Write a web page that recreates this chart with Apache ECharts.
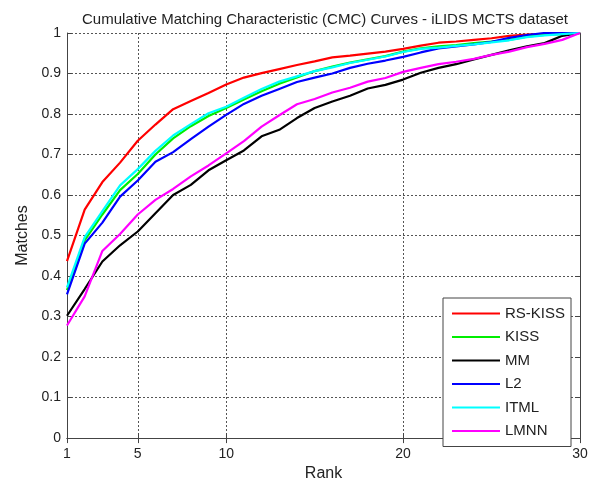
<!DOCTYPE html>
<html>
<head>
<meta charset="utf-8">
<script src="https://cdn.jsdelivr.net/npm/echarts@6/dist/echarts.min.js"></script>
<style>
    html, body { margin: 0; padding: 0; background: #fff; }
    #myChart { width: 596px; height: 487px; }
</style>
</head>
<body>
<div id="myChart"></div>
<script>
    var rankList = [];
    for (var i = 1; i <= 30; i++) rankList.push(String(i));
    var rankTicks = ['1', '5', '10', '20', '30'];

    var rsKissList = [0.437, 0.564, 0.632, 0.68, 0.734, 0.774, 0.812, 0.832, 0.852, 0.873, 0.89, 0.901, 0.911, 0.921, 0.93,
        0.94, 0.944, 0.949, 0.954, 0.961, 0.969, 0.976, 0.979, 0.983, 0.987, 0.993, 0.996, 0.998, 0.999, 1.0];
    var kissList = [0.365, 0.488, 0.552, 0.612, 0.652, 0.70, 0.74, 0.77, 0.795, 0.815, 0.836, 0.856, 0.875, 0.89, 0.906,
        0.917, 0.927, 0.935, 0.943, 0.954, 0.962, 0.967, 0.97, 0.975, 0.979, 0.983, 0.991, 0.995, 0.997, 1.0];
    var mmList = [0.302, 0.368, 0.436, 0.476, 0.51, 0.555, 0.6, 0.625, 0.661, 0.686, 0.71, 0.745, 0.761, 0.79, 0.815,
        0.831, 0.845, 0.863, 0.872, 0.885, 0.902, 0.914, 0.923, 0.935, 0.946, 0.957, 0.967, 0.975, 0.993, 1.0];
    var l2List = [0.355, 0.48, 0.532, 0.596, 0.636, 0.682, 0.706, 0.738, 0.769, 0.798, 0.825, 0.845, 0.862, 0.879, 0.89,
        0.9, 0.914, 0.924, 0.932, 0.941, 0.952, 0.962, 0.967, 0.972, 0.978, 0.988, 0.995, 1.0, 1.0, 1.0];
    var itmlList = [0.372, 0.496, 0.56, 0.624, 0.664, 0.709, 0.747, 0.775, 0.802, 0.818, 0.84, 0.862, 0.88, 0.893, 0.906,
        0.915, 0.926, 0.934, 0.942, 0.953, 0.961, 0.964, 0.968, 0.972, 0.977, 0.982, 0.99, 0.994, 0.997, 1.0];
    var lmnnList = [0.278, 0.35, 0.462, 0.504, 0.552, 0.588, 0.615, 0.646, 0.673, 0.703, 0.733, 0.769, 0.797, 0.824, 0.837,
        0.853, 0.865, 0.88, 0.889, 0.904, 0.914, 0.923, 0.929, 0.936, 0.946, 0.954, 0.965, 0.973, 0.983, 1.0];

    var font = "'Liberation Sans', Arial, sans-serif";
    var frameColor = '#444';
    var gridLine = { show: true, lineStyle: { color: '#555', type: [2, 2], width: 1 } };

    function showRank(index, value) {
        return rankTicks.indexOf(value) >= 0;
    }
    // vertical grid only at 5, 10, 20 (1 and 30 are the frame)
    function innerRank(index, value) {
        return value === '5' || value === '10' || value === '20';
    }

    function makeLine(name, data, color) {
        return {
            name: name,
            type: 'line',
            data: data,
            symbol: 'none',
            smooth: false,
            lineStyle: { color: color, width: 2.2 },
            itemStyle: { color: color },
            emphasis: { disabled: true }
        };
    }

    var myChart = echarts.init(document.getElementById('myChart'));
    myChart.setOption({
        animation: false,
        backgroundColor: '#fff',
        title: {
            text: 'Cumulative Matching Characteristic (CMC) Curves - iLIDS MCTS dataset',
            left: 320,
            textAlign: 'center',
            top: 7,
            textStyle: { fontFamily: font, fontSize: 15, fontWeight: 'normal', color: '#222' }
        },
        legend: {
            orient: 'vertical',
            left: 443,
            top: 298,
            padding: [8, 6, 8, 9],
            icon: 'rect',
            itemWidth: 48,
            itemHeight: 2,
            itemGap: 8.5,
            backgroundColor: '#fff',
            borderColor: '#444',
            borderWidth: 1,
            borderRadius: 0,
            textStyle: { fontFamily: font, fontSize: 15, lineHeight: 14, color: '#222' },
            data: ['RS-KISS', 'KISS', 'MM', 'L2', 'ITML', 'LMNN']
        },
        grid: { left: 67, right: 16, top: 33, bottom: 43, containLabel: false },
        xAxis: [
            {
                type: 'category',
                boundaryGap: false,
                data: rankList,
                name: 'Rank',
                nameLocation: 'middle',
                nameGap: 27,
                nameTextStyle: { fontFamily: font, fontSize: 16, color: '#222' },
                axisLine: { lineStyle: { color: frameColor, width: 1 } },
                axisTick: { inside: true, length: 5, interval: showRank, lineStyle: { color: frameColor } },
                axisLabel: { interval: showRank, margin: 9, fontFamily: font, fontSize: 14, color: '#222' },
                splitLine: { show: true, interval: innerRank, lineStyle: gridLine.lineStyle }
            },
            {
                type: 'category',
                position: 'top',
                boundaryGap: false,
                data: rankList,
                axisLine: { lineStyle: { color: frameColor, width: 1 } },
                axisTick: { inside: true, length: 5, interval: showRank, lineStyle: { color: frameColor } },
                axisLabel: { show: false },
                splitLine: { show: false }
            }
        ],
        yAxis: [
            {
                type: 'value',
                min: 0,
                max: 1,
                interval: 0.1,
                name: 'Matches',
                nameLocation: 'middle',
                nameGap: 36,
                nameTextStyle: { fontFamily: font, fontSize: 16, color: '#222' },
                axisLine: { show: true, lineStyle: { color: frameColor, width: 1 } },
                axisTick: { show: true, inside: true, length: 5, lineStyle: { color: frameColor } },
                axisLabel: {
                    margin: 6, fontFamily: font, fontSize: 14, color: '#222',
                    formatter: function (v) { return String(Math.round(v * 10) / 10); }
                },
                splitLine: gridLine
            },
            {
                type: 'value',
                position: 'right',
                min: 0,
                max: 1,
                interval: 0.1,
                axisLine: { show: true, lineStyle: { color: frameColor, width: 1 } },
                axisTick: { show: true, inside: true, length: 5, lineStyle: { color: frameColor } },
                axisLabel: { show: false },
                splitLine: { show: false }
            }
        ],
        series: [
            makeLine('RS-KISS', rsKissList, '#ff0000'),
            makeLine('KISS', kissList, '#00ee00'),
            makeLine('MM', mmList, '#000000'),
            makeLine('L2', l2List, '#0000ff'),
            makeLine('ITML', itmlList, '#00ffff'),
            makeLine('LMNN', lmnnList, '#ff00ff')
        ]
    });
</script>
</body>
</html>
